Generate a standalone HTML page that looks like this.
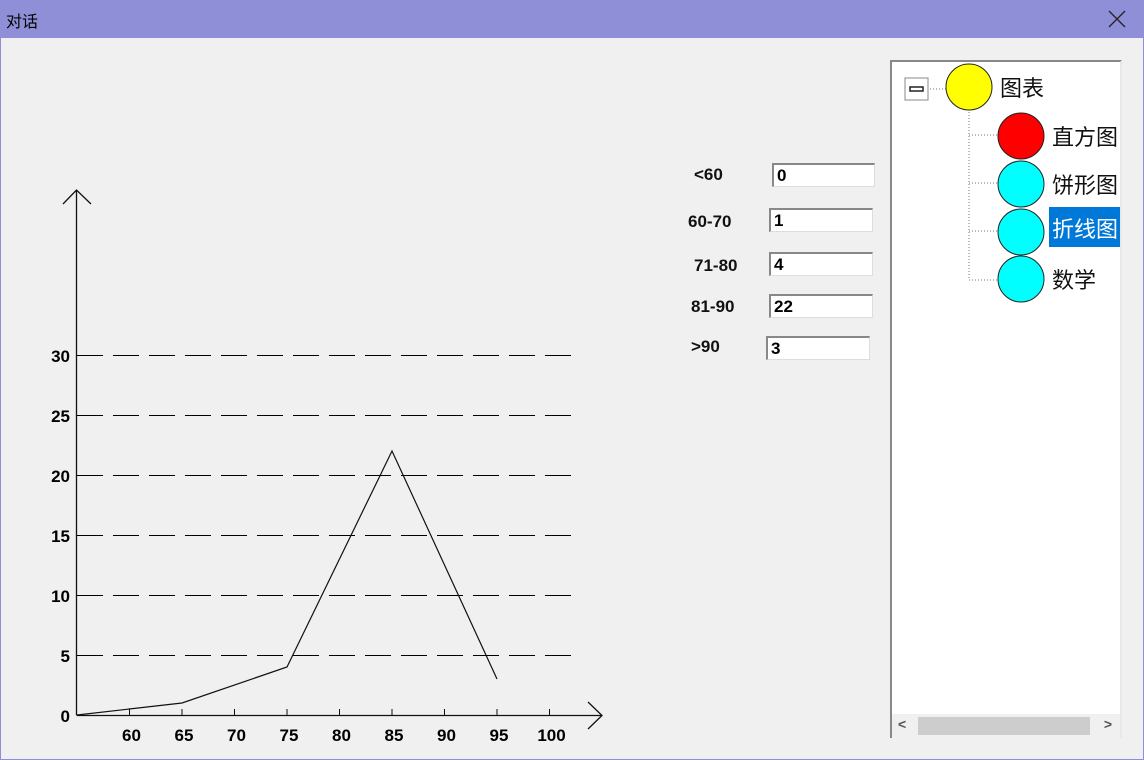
<!DOCTYPE html>
<html><head><meta charset="utf-8"><style>
body{margin:0;width:1144px;height:760px;background:#f0f0f0;overflow:hidden;font-family:"Liberation Sans","Noto Sans CJK SC",sans-serif;position:relative}
.title{position:absolute;left:0;top:0;width:1144px;height:38px;background:#8f8fd8}
.title span{position:absolute;left:6px;top:8px;font-size:16px;color:#000}
.close{position:absolute;left:1108px;top:10px;width:18px;height:18px}
.frame{position:absolute;left:0;top:38px;width:1142px;height:721px;border:1px solid #8f8fd8;border-top:none}
.lbl{position:absolute;font-weight:bold;font-size:17px;color:#111}
.inp{position:absolute;width:100px;height:24px;background:#fff;border-top:2px solid #888;border-left:2px solid #888;border-right:1px solid #ddd;border-bottom:1px solid #ddd;box-sizing:border-box;font-weight:bold;font-size:17px;padding-left:3px;line-height:22px}
.tree{position:absolute;left:890px;top:60px;width:232px;height:678px;background:#fff;border-top:2px solid #888;border-left:2px solid #888;border-right:2px solid #e8e8e8;box-sizing:border-box;overflow:hidden}
.node{position:absolute;font-size:22px;color:#111;white-space:nowrap}
</style></head><body>
<div class="title"><span>对话</span><svg class="close" viewBox="0 0 18 18"><path d="M1 1L17 17M17 1L1 17" stroke="#222" stroke-width="1.3"/></svg></div>
<div class="frame"></div>
<svg id="chart" style="position:absolute;left:0;top:0" width="640" height="760" shape-rendering="crispEdges"></svg>
<div class="lbl" style="left:694px;top:165px">&lt;60</div>
<div class="inp" style="left:772px;top:163px;width:103px">0</div>
<div class="lbl" style="left:688px;top:212px">60-70</div>
<div class="inp" style="left:769px;top:208px;width:104px">1</div>
<div class="lbl" style="left:694px;top:256px">71-80</div>
<div class="inp" style="left:769px;top:252px;width:104px">4</div>
<div class="lbl" style="left:691px;top:297px">81-90</div>
<div class="inp" style="left:769px;top:294px;width:104px">22</div>
<div class="lbl" style="left:691px;top:337px">&gt;90</div>
<div class="inp" style="left:766px;top:336px;width:104px">3</div>
<div class="tree">
<svg width="228" height="250" style="position:absolute;left:0;top:0">
<g stroke="#777" stroke-dasharray="1,2" fill="none"><line x1="26" y1="27" x2="55" y2="27"/><line x1="77" y1="50" x2="77" y2="218"/><line x1="77" y1="73" x2="107" y2="73"/><line x1="77" y1="121" x2="107" y2="121"/><line x1="77" y1="169" x2="107" y2="169"/><line x1="77" y1="218" x2="107" y2="218"/></g>
<rect x="13" y="16" width="23" height="22" fill="#fff" stroke="#888"/><rect x="18" y="25" width="13" height="4" fill="#fff" stroke="#222" stroke-width="1.5"/>
<circle cx="77" cy="25" r="23" fill="#ff0" stroke="#222"/>
<circle cx="129" cy="74" r="23" fill="#f00" stroke="#222"/>
<circle cx="129" cy="122" r="23" fill="#0ff" stroke="#222"/>
<circle cx="129" cy="170" r="23" fill="#0ff" stroke="#222"/>
<circle cx="129" cy="217" r="23" fill="#0ff" stroke="#222"/>
</svg>
<div class="node" style="left:108px;top:9px">图表</div>
<div class="node" style="left:160px;top:58px">直方图</div>
<div class="node" style="left:160px;top:106px">饼形图</div>
<div class="node" style="left:157px;top:145px;background:#0078d7;color:#fff;padding:3px;height:40px;line-height:40px;box-sizing:border-box"><span style="line-height:34px">折线图</span></div>
<div class="node" style="left:160px;top:201px">数学</div>
<div style="position:absolute;left:0;bottom:0;width:228px;height:24px;background:#f0f0f0">
<div style="position:absolute;left:26px;top:3px;width:172px;height:18px;background:#cdcdcd"></div>
<span style="position:absolute;left:6px;top:2px;font-size:14px;color:#555;font-weight:bold">&lt;</span><span style="position:absolute;right:8px;top:2px;font-size:14px;color:#555;font-weight:bold">&gt;</span></div>
</div>
<script>
const xTicks=[60,65,70,75,80,85,90,95,100];
const yTicks=[0,5,10,15,20,25,30];
const xVals=[55,65,75,85,95];
const yVals=[0,1,4,22,3];
const NS='http://www.w3.org/2000/svg';
const svg=document.getElementById('chart');
const X=v=>77+(v-55)*10.5;
const Y=v=>715-v*12;
function mk(t,a){const e=document.createElementNS(NS,t);for(const k in a)e.setAttribute(k,a[k]);svg.appendChild(e);return e;}
yTicks.forEach(t=>{
 if(t>0){const l=mk('line',{x1:77,y1:Y(t)+0.5,x2:572,y2:Y(t)+0.5,stroke:'#000','stroke-dasharray':'26,10'});
 
 }
 const tx=mk('text',{x:70,y:Y(t)+7,'text-anchor':'end','font-size':17,'font-weight':'bold','font-family':'Liberation Sans'});tx.textContent=t;
 
 
});
xTicks.forEach(t=>{
 const l=mk('line',{x1:X(t),y1:715,x2:X(t),y2:709,stroke:'#111'});
 
 
 const tx=mk('text',{x:X(t)+2,y:741,'text-anchor':'middle','font-size':17,'font-weight':'bold','font-family':'Liberation Sans'});tx.textContent=t;
 
 
});
const ax=mk('path',{d:'M76.5 715V190M63 204L76.5 190L91 204M76.5 715.5H602M588 702L602 715.5L588 729',stroke:'#111',fill:'none','stroke-width':1.3,'shape-rendering':'auto'});


const pl=mk('polyline',{points:xVals.map((v,i)=>X(v)+','+Y(yVals[i])).join(' '),stroke:'#111',fill:'none','stroke-width':1.2,'shape-rendering':'auto'});


</script>
</body></html>
